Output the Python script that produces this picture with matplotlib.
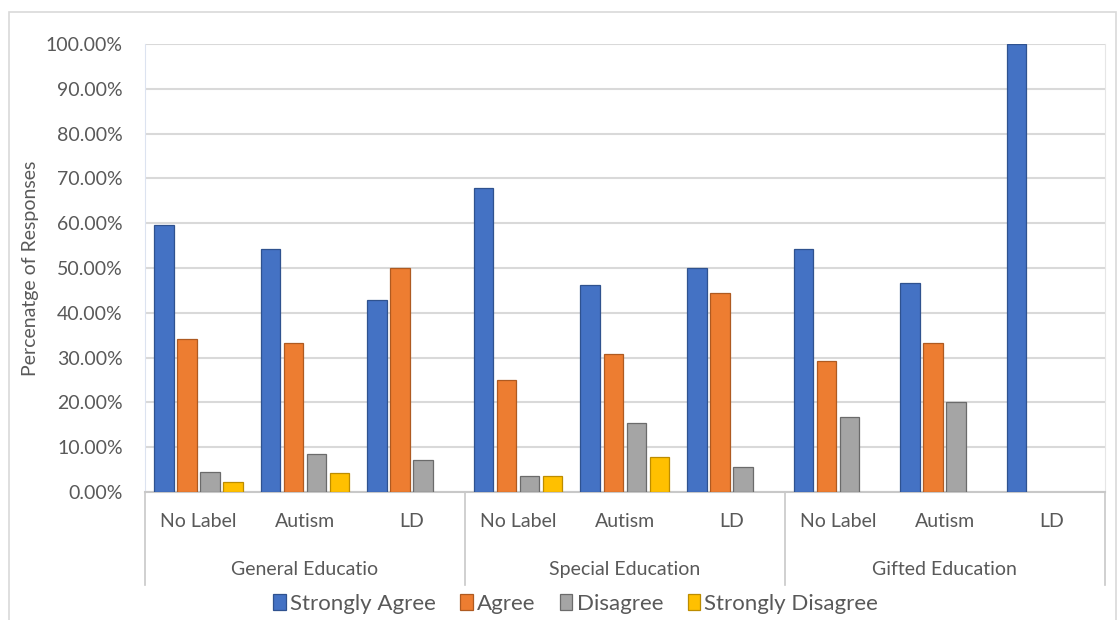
import numpy as np
import matplotlib.pyplot as plt
from matplotlib.patches import Rectangle
from matplotlib.ticker import PercentFormatter

plt.rcParams['font.family'] = ['Lato', 'DejaVu Sans']

groups = ['General Educatio', 'Special Education', 'Gifted Education']
labels = ['No Label', 'Autism', 'LD']
series = ['Strongly Agree', 'Agree', 'Disagree', 'Strongly Disagree']
colors = ['#4472C4', '#ED7D31', '#A5A5A5', '#FFC000']
edges = ['#2F528F', '#AE5A21', '#6B6B6B', '#BC8C00']

# percentages, one list per series, 9 categories (group x label)
strongly_agree = [59.6, 54.2, 42.9, 67.9, 46.2, 50.0, 54.2, 46.7, 100.0]
agree = [34.2, 33.3, 50.0, 25.0, 30.8, 44.4, 29.2, 33.3, 0]
disagree = [4.5, 8.4, 7.1, 3.6, 15.4, 5.6, 16.7, 20.0, 0]
strongly_disagree = [2.2, 4.2, 0, 3.6, 7.7, 0, 0, 0, 0]
values = [strongly_agree, agree, disagree, strongly_disagree]

fig = plt.figure(figsize=(11.18, 6.2), dpi=100)
fig.patches.append(Rectangle((0.008, -0.01), 0.99, 0.99, transform=fig.transFigure,
                             fill=False, edgecolor='#D9D9D9', lw=1.2))
ax = fig.add_axes([0.1297, 0.2065, 0.8583, 0.7225])

x = np.arange(len(strongly_agree))
pitch = 0.216
width = 0.183
for k, (name, vals) in enumerate(zip(series, values)):
    vals = np.array(vals, dtype=float)
    mask = vals > 0
    ax.bar(x[mask] + (k - 1.5) * pitch, vals[mask], width=width, color=colors[k],
           edgecolor=edges[k], linewidth=0.9, label=name, zorder=3)

ax.set_xlim(-0.5, 8.5)
ax.set_ylim(0, 100)
ax.set_yticks(np.arange(0, 101, 10))
ax.yaxis.set_major_formatter(PercentFormatter(decimals=2))
ax.tick_params(axis='y', length=0, labelsize=14, labelcolor='#595959', pad=16)
ax.set_xticks([])
ax.grid(axis='y', color='#D9D9D9', lw=1.5, zorder=0)
ax.set_ylabel('Percenatge of Responses', fontsize=14, color='#595959', labelpad=5)
ax.spines['top'].set_visible(False)
ax.spines['left'].set_color('#DCE3F0')
ax.spines['right'].set_color('#E6E6E6')
ax.spines['bottom'].set_color('#C8C8C8')
ax.spines['bottom'].set_linewidth(1.5)

# two-level category axis
tr = ax.get_xaxis_transform()
for i in range(len(x)):
    ax.text(x[i], -0.067, labels[i % 3], transform=tr, ha='center', va='center',
            fontsize=14, color='#595959')
for g, name in enumerate(groups):
    ax.text(3 * g + 1, -0.172, name, transform=tr, ha='center', va='center',
            fontsize=14, color='#595959')
for b in [-0.5, 2.5, 5.5, 8.5]:
    ax.plot([b, b], [0, -0.208], transform=tr, color='#C8C8C8', lw=1.2, clip_on=False)

ax.legend(loc='center', bbox_to_anchor=(0.449, -0.249), ncol=4, frameon=False,
          fontsize=16, handlelength=0.55, handleheight=0.75, handletextpad=0.2,
          columnspacing=1.1, labelcolor='#595959')

fig.savefig('out.png', dpi=100)
